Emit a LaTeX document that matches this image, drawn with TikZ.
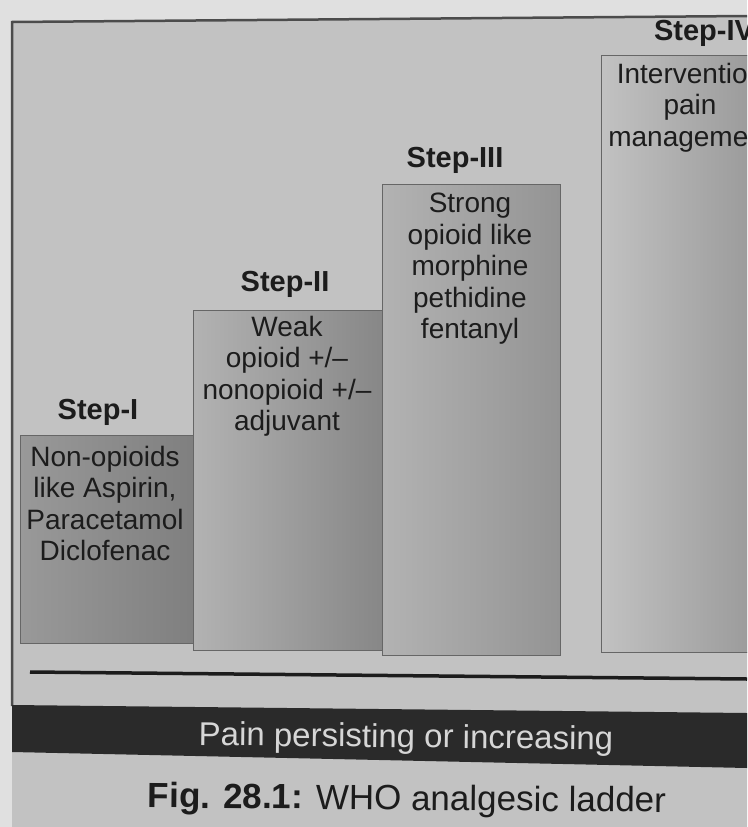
\documentclass[tikz,border=0pt]{standalone}
\usepackage{fontspec}
\setmainfont{Liberation Sans}
\definecolor{pagebg}{HTML}{E0E0E0}
\definecolor{framebg}{HTML}{C2C2C2}
\definecolor{ink}{HTML}{1C1C1C}
\definecolor{bandc}{HTML}{2A2A2A}
\definecolor{bandtxt}{HTML}{D6D6D6}
\tikzset{
  stepbox/.style={draw=black!60, line width=0.9pt, anchor=north west, inner sep=0pt, outer sep=0pt},
  steplabel/.style={font=\fontsize{29}{32}\selectfont\bfseries, text=ink, inner sep=0pt},
  steptext/.style={font=\fontsize{28}{31.5}\selectfont, text=ink, align=center, anchor=north, inner sep=0pt}
}
\begin{document}
\begin{tikzpicture}[x=1pt,y=-1pt]
\useasboundingbox (0,0) rectangle (747,827);
\clip (0,0) rectangle (747,827);
\fill[pagebg] (0,0) rectangle (747,827);
\fill[framebg] (12,22) -- (747,16) -- (747,827) -- (12,827) -- cycle;
% frame lines
\coordinate (ftl) at (12,22);
\coordinate (ftr) at (747,16);
\coordinate (fbl) at (12,706);
\draw[black!70, line width=2.5pt] (ftr) -- (ftl) -- (fbl);
% step boxes
\node[stepbox, left color=black!40, right color=black!50, minimum width=173pt, minimum height=208pt] (s1box) at (20,435) {};
\node[stepbox, left color=black!30, right color=black!47, minimum width=189pt, minimum height=340pt] (s2box) at (193,310) {};
\node[stepbox, left color=black!30, right color=black!42, minimum width=178pt, minimum height=471pt] (s3box) at (382,184) {};
\node[stepbox, left color=black!24, right color=black!42, minimum width=178pt, minimum height=597pt] (s4box) at (601,55) {};
% labels
\node[steplabel] (s1lab) at (98,412) {Step-I};
\node[steplabel] (s2lab) at (285,284) {Step-II};
\node[steplabel] (s3lab) at (455,160) {Step-III};
\node[steplabel] (s4lab) at (704,33) {Step-IV};
% texts
\node[steptext] (s1txt) at (105,446) {Non-opioids\\like Aspirin,\\Paracetamol\\Diclofenac};
\node[steptext] (s2txt) at (287,316) {Weak\\opioid +/--\\nonopioid +/--\\adjuvant};
\node[steptext] (s3txt) at (470,193) {Strong\\opioid like\\morphine\\pethidine\\fentanyl};
\node[steptext] (s4txt) at (690,63) {Intervention\\pain\\management};
% horizontal rule
\coordinate (hl) at (30,672);
\coordinate (hr) at (747,679);
\draw[ink, line width=3.5pt] (hl) -- (hr);
% band
\fill[bandc] (12,705) -- (747,713) -- (747,768) -- (12,752) -- cycle;
\node[font=\fontsize{33}{36}\selectfont, text=bandtxt, rotate=-0.6, inner sep=0pt] (band) at (406,739) {Pain persisting or increasing};
% caption
\node[font=\fontsize{35}{39}\selectfont, text=ink, inner sep=0pt, rotate=-0.5] (cap) at (407,801) {\textbf{Fig. 28.1:} WHO analgesic ladder};
\end{tikzpicture}
\end{document}
